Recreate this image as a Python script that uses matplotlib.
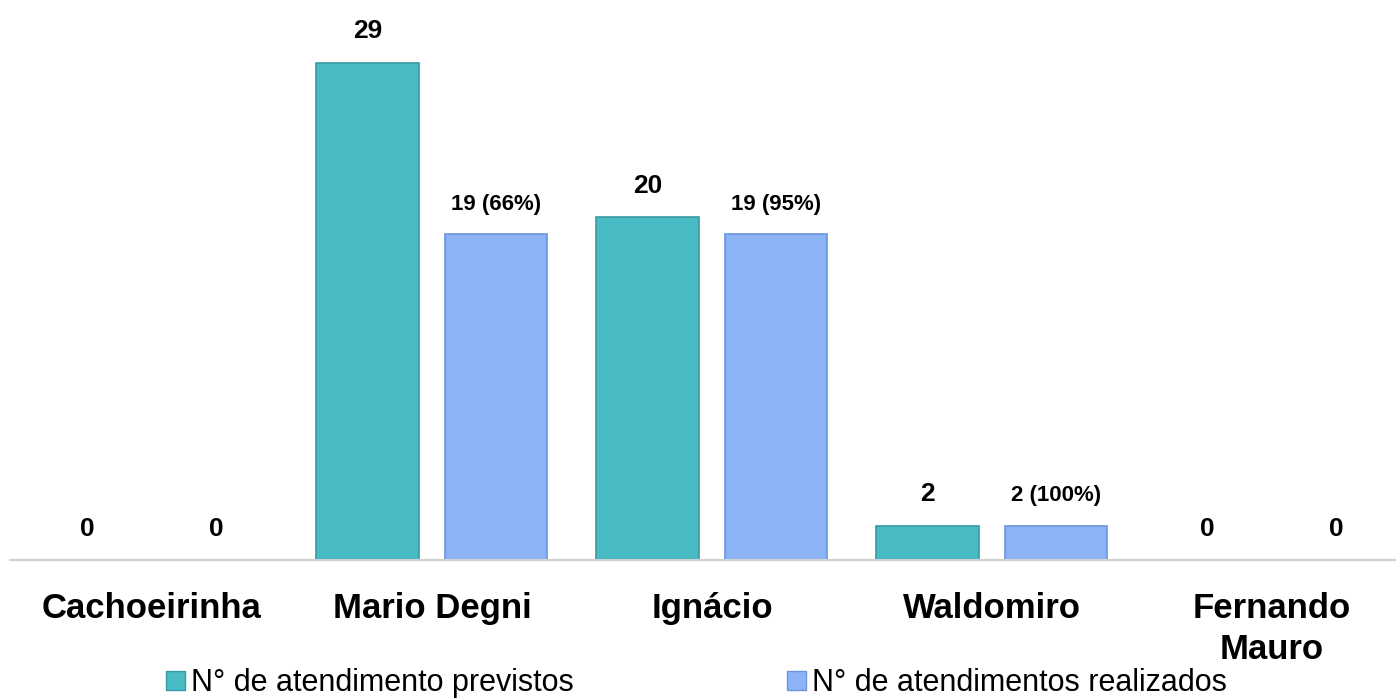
import numpy as np
import matplotlib
matplotlib.use("Agg")
import matplotlib.pyplot as plt
from matplotlib.patches import Patch

# data
categories = ["Cachoeirinha", "Mario Degni", "Ignácio", "Waldomiro", "Fernando\nMauro"]
previstos = [0, 29, 20, 2, 0]
realizados = [0, 19, 19, 2, 0]
labels_prev = ["0", "29", "20", "2", "0"]
labels_real = ["0", "19 (66%)", "19 (95%)", "2 (100%)", "0"]
legend_labels = ["N° de atendimento previstos", "N° de atendimentos realizados"]

c_prev = "#48BBC4"
c_real = "#8DB3F7"

plt.rcParams["font.family"] = ["Liberation Sans Narrow", "Liberation Sans", "DejaVu Sans"]

fig = plt.figure(figsize=(13.96, 6.99), dpi=100)
ax = fig.add_axes([10/1396, 139/699, 1386/1396, (560-11.5)/699])

x = np.arange(len(categories))
w = 0.365
off = 0.23
b1 = ax.bar(x - off, previstos, w, color=c_prev, edgecolor="#3A9AA3", lw=1.2)
b2 = ax.bar(x + off, realizados, w, color=c_real, edgecolor="#6A95DC", lw=1.2)

ax.set_xlim(-0.507, 4.443)
ax.set_ylim(0, 32)

for xi, v, s in zip(x - off, previstos, labels_prev):
    ax.annotate(s, (xi, v), xytext=(0, 14), textcoords="offset points",
                ha="center", va="bottom", fontsize=19, fontweight="bold")
for xi, v, s in zip(x + off, realizados, labels_real):
    fs = 19 if v == 0 else 16
    ax.annotate(s, (xi, v), xytext=(0, 14), textcoords="offset points",
                ha="center", va="bottom", fontsize=fs, fontweight="bold")

for sp in ["top", "right", "left"]:
    ax.spines[sp].set_visible(False)
ax.spines["bottom"].set_color("#D0D0D0")
ax.spines["bottom"].set_linewidth(1.5)
ax.set_yticks([])
ax.set_xticks(x)
ax.set_xticklabels(categories, fontsize=25, fontweight="bold", linespacing=1.3)
ax.tick_params(axis="x", length=0, pad=23)

handles = [Patch(facecolor=c_prev, edgecolor="#3A9AA3"),
           Patch(facecolor=c_real, edgecolor="#6A95DC")]
fig.legend(handles, legend_labels, loc="lower center", bbox_to_anchor=(0.499, -0.038),
           ncol=2, frameon=False, fontsize=22, handlelength=0.6, handleheight=0.6,
           handletextpad=0.2, columnspacing=7.0)

fig.savefig("out.png", dpi=100)
